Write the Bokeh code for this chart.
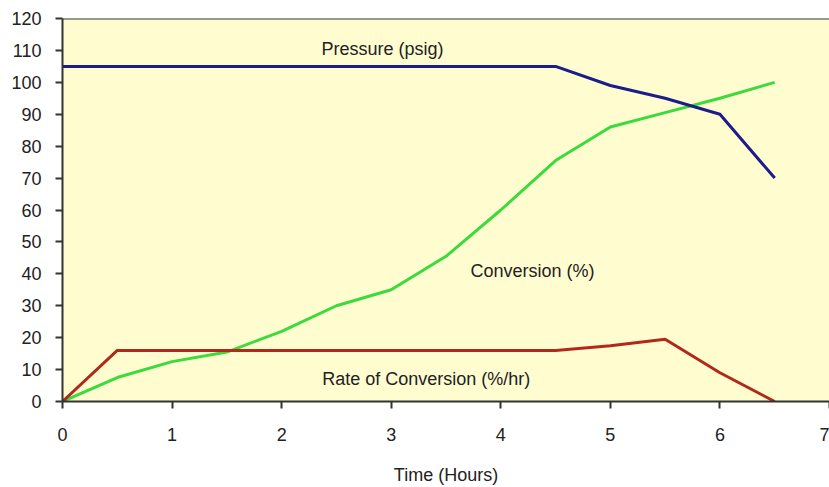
from bokeh.plotting import figure
from bokeh.models import FixedTicker, Label, Span
from bokeh.embed import file_html
from bokeh.resources import INLINE

# ---- data ----
time_hours = [0, 0.5, 1, 1.5, 2, 2.5, 3, 3.5, 4, 4.5, 5, 5.5, 6, 6.5]
pressure_psig = [105, 105, 105, 105, 105, 105, 105, 105, 105, 105, 99, 95, 90, 70]
conversion_pct = [0, 7.5, 12.5, 15.5, 22, 30, 35, 45.5, 60, 75.5, 86, 90.5, 95, 100]
rate_pct_per_hr = [0, 16, 16, 16, 16, 16, 16, 16, 16, 16, 17.5, 19.5, 9, 0]

x_ticks = [0, 1, 2, 3, 4, 5, 6, 7]
y_ticks = [0, 10, 20, 30, 40, 50, 60, 70, 80, 90, 100, 110, 120]

series_labels = ["Pressure (psig)", "Conversion (%)", "Rate of Conversion (%/hr)"]
label_x = [2.92, 4.29, 3.32]
label_y = [110.3, 40.8, 7.2]
x_title = "Time (Hours)"

FONT = "Liberation Sans"
TXT = "#222222"

p = figure(width=829, height=487, x_range=(0, 7), y_range=(0, 120),
           output_backend="svg", toolbar_location=None,
           min_border_left=62, min_border_right=0, min_border_top=18,
           min_border_bottom=84)

p.background_fill_color = "#FFFDD0"
p.border_fill_color = "white"
p.outline_line_color = None
p.xgrid.visible = False
p.ygrid.visible = False

p.line(time_hours, conversion_pct, line_color="#3ADB3A", line_width=3)
p.line(time_hours, rate_pct_per_hr, line_color="#B02A1C", line_width=3)
p.line(time_hours, pressure_psig, line_color="#1C1C8A", line_width=3)

p.add_layout(Span(location=120, dimension="width", line_color="#333333", line_width=2))

for ax in (p.xaxis[0], p.yaxis[0]):
    ax.axis_line_color = "#333333"
    ax.axis_line_width = 2
    ax.major_tick_line_color = "#333333"
    ax.major_tick_line_width = 2
    ax.major_tick_in = 0
    ax.major_tick_out = 7
    ax.minor_tick_line_color = None
    ax.major_label_text_font = FONT
    ax.major_label_text_font_size = "18px"
    ax.major_label_text_color = TXT

p.xaxis[0].ticker = FixedTicker(ticks=x_ticks)
p.yaxis[0].ticker = FixedTicker(ticks=y_ticks)
p.xaxis[0].major_label_standoff = 19
p.yaxis[0].major_label_standoff = 14
p.xaxis[0].axis_label = x_title
p.xaxis[0].axis_label_text_font = FONT
p.xaxis[0].axis_label_text_font_size = "18px"
p.xaxis[0].axis_label_text_font_style = "normal"
p.xaxis[0].axis_label_text_color = TXT
p.xaxis[0].axis_label_standoff = 21

for txt, lx, ly in zip(series_labels, label_x, label_y):
    p.add_layout(Label(x=lx, y=ly, text=txt, text_align="center", text_baseline="middle",
                       text_font=FONT, text_font_size="18px", text_color=TXT))

open("out.html", "w").write(file_html(p, INLINE))
